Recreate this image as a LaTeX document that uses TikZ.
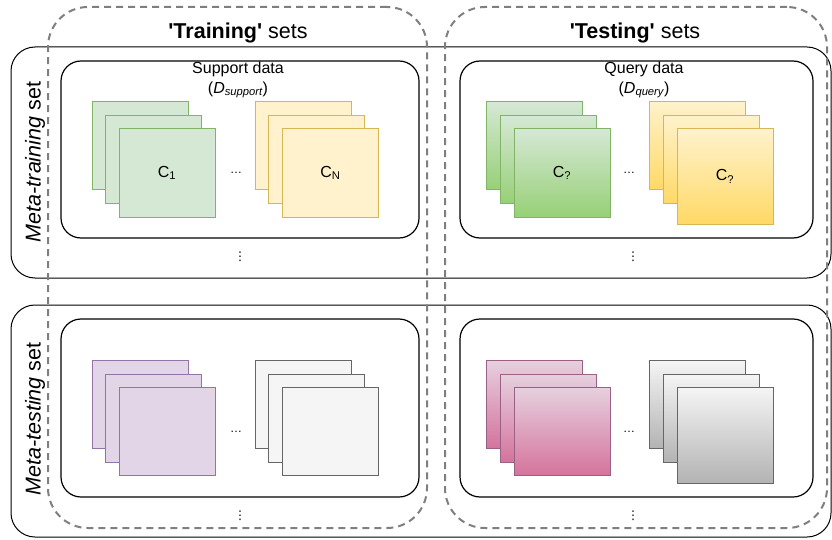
\documentclass[tikz,border=0pt]{standalone}
\usepackage{fontspec}
\setmainfont{Liberation Sans}
\newfontfamily\dotsfont{DejaVu Sans}
\definecolor{dashgray}{HTML}{7F7F7F}
\definecolor{greenfill}{HTML}{D5E8D4}
\definecolor{greenline}{HTML}{82B366}
\definecolor{greendark}{HTML}{97D077}
\definecolor{yellowfill}{HTML}{FFF2CC}
\definecolor{yellowline}{HTML}{D6B656}
\definecolor{yellowdark}{HTML}{FFD966}
\definecolor{purplefill}{HTML}{E1D5E7}
\definecolor{purpleline}{HTML}{9673A6}
\definecolor{pinkfill}{HTML}{E6D0DE}
\definecolor{pinkline}{HTML}{996185}
\definecolor{pinkdark}{HTML}{D5739D}
\definecolor{grayfill}{HTML}{F5F5F5}
\definecolor{grayline}{HTML}{666666}
\definecolor{graydark}{HTML}{B3B3B3}
\tikzset{
    setbox/.style={draw=dashgray, line width=2pt, dash pattern=on 7pt off 5pt,
        rounded corners=40pt, minimum height=521pt, inner sep=0pt},
    metabox/.style={draw, line width=1pt, rounded corners=24pt,
        minimum width=820pt, inner sep=0pt},
    databox/.style={draw, line width=1.2pt, rounded corners=20pt,
        minimum height=177pt, inner sep=0pt},
    card/.style={draw, line width=1pt, minimum width=96pt, minimum height=88pt,
        inner sep=0pt, font=\fontsize{16}{18}\selectfont},
    greencard/.style={card, draw=greenline, fill=greenfill},
    yellowcard/.style={card, draw=yellowline, fill=yellowfill},
    purplecard/.style={card, draw=purpleline, fill=purplefill},
    graycard/.style={card, draw=grayline, fill=grayfill},
    greenshade/.style={card, draw=greenline, top color=greenfill, bottom color=greendark},
    yellowshade/.style={card, draw=yellowline, top color=yellowfill, bottom color=yellowdark},
    pinkshade/.style={card, draw=pinkline, top color=pinkfill, bottom color=pinkdark},
    grayshade/.style={card, draw=grayline, top color=grayfill, bottom color=graydark},
    title/.style={font=\fontsize{21.5}{24}\selectfont},
    caption/.style={align=center, font=\fontsize{16}{20}\selectfont},
    dots/.style={font=\fontsize{12}{14}\selectfont, inner sep=0pt},
    vdotsstyle/.style={font=\dotsfont\fontsize{12}{14}\selectfont, inner sep=0pt}
}

\begin{document}
\begin{tikzpicture}[x=1pt, y=-1pt]
    \useasboundingbox (0, 0) rectangle (832, 540);

    % rows
    \node[metabox, minimum height=231pt] (metatrain) at (421, 162.5) {};
    \node[metabox, minimum height=232pt] (metatest) at (421, 421) {};
    \node[title, rotate=90] (metatrainlbl) at (35, 162) {\textit{Meta-training} set};
    \node[title, rotate=90] (metatestlbl) at (35, 419) {\textit{Meta-testing} set};

    % columns
    \node[setbox, minimum width=379pt] (trainsets) at (237.5, 267.5) {};
    \node[setbox, minimum width=382pt] (testsets) at (636, 267.5) {};
    \node[title] (trainlbl) at (238, 33) {\textbf{\textquotesingle Training\textquotesingle} sets};
    \node[title] (testlbl) at (635, 33) {\textbf{\textquotesingle Testing\textquotesingle} sets};

    % data boxes
    \node[databox, minimum width=358pt] (support) at (240, 149.5) {};
    \node[databox, minimum width=353pt] (query) at (636.5, 149.5) {};
    \node[databox, minimum width=358pt, minimum height=178pt] (support2) at (240, 408) {};
    \node[databox, minimum width=353pt, minimum height=178pt] (query2) at (636.5, 408) {};
    \node[caption] (supportlbl) at (238, 80) {Support data\\(\textit{D\textsubscript{support}})};
    \node[caption] (querylbl) at (644, 80) {Query data\\(\textit{D\textsubscript{query}})};

    % meta-training support
    \node[greencard] (sa1) at (140, 146) {};
    \node[greencard] (sa2) at (153.5, 159.5) {};
    \node[greencard] (sa3) at (167, 173) {C\textsubscript{1}};
    \node[yellowcard] (sb1) at (303, 146) {};
    \node[yellowcard] (sb2) at (316.5, 159.5) {};
    \node[yellowcard] (sb3) at (330.5, 173) {C\textsubscript{N}};

    % meta-training query
    \node[greenshade] (qa1) at (534.5, 146) {};
    \node[greenshade] (qa2) at (548, 159.5) {};
    \node[greenshade] (qa3) at (562, 173) {C\textsubscript{?}};
    \node[yellowshade] (qb1) at (697.5, 146) {};
    \node[yellowshade] (qb2) at (711, 159.5) {};
    \node[yellowshade, minimum height=95pt] (qb3) at (725, 176.5) {C\textsubscript{?}};

    % meta-testing support
    \node[purplecard] (tsa1) at (140, 404.5) {};
    \node[purplecard] (tsa2) at (153.5, 418) {};
    \node[purplecard] (tsa3) at (167, 431.5) {};
    \node[graycard] (tsb1) at (303, 404.5) {};
    \node[graycard] (tsb2) at (316.5, 418) {};
    \node[graycard] (tsb3) at (330.5, 431.5) {};

    % meta-testing query
    \node[pinkshade] (tqa1) at (534.5, 404.5) {};
    \node[pinkshade] (tqa2) at (548, 418) {};
    \node[pinkshade] (tqa3) at (562, 431.5) {};
    \node[grayshade] (tqb1) at (697.5, 404.5) {};
    \node[grayshade] (tqb2) at (711, 418) {};
    \node[grayshade, minimum height=96pt] (tqb3) at (725, 435) {};

    % dots
    \node[dots] (hd1) at (236, 173) {\ldots};
    \node[dots] (hd2) at (629, 173) {\ldots};
    \node[dots] (hd3) at (236, 432) {\ldots};
    \node[dots] (hd4) at (629, 432) {\ldots};
    \node[vdotsstyle] (vd1) at (240, 257) {⋮};
    \node[vdotsstyle] (vd2) at (633, 257) {⋮};
    \node[vdotsstyle] (vd3) at (240, 516) {⋮};
    \node[vdotsstyle] (vd4) at (633, 516) {⋮};
\end{tikzpicture}
\end{document}
